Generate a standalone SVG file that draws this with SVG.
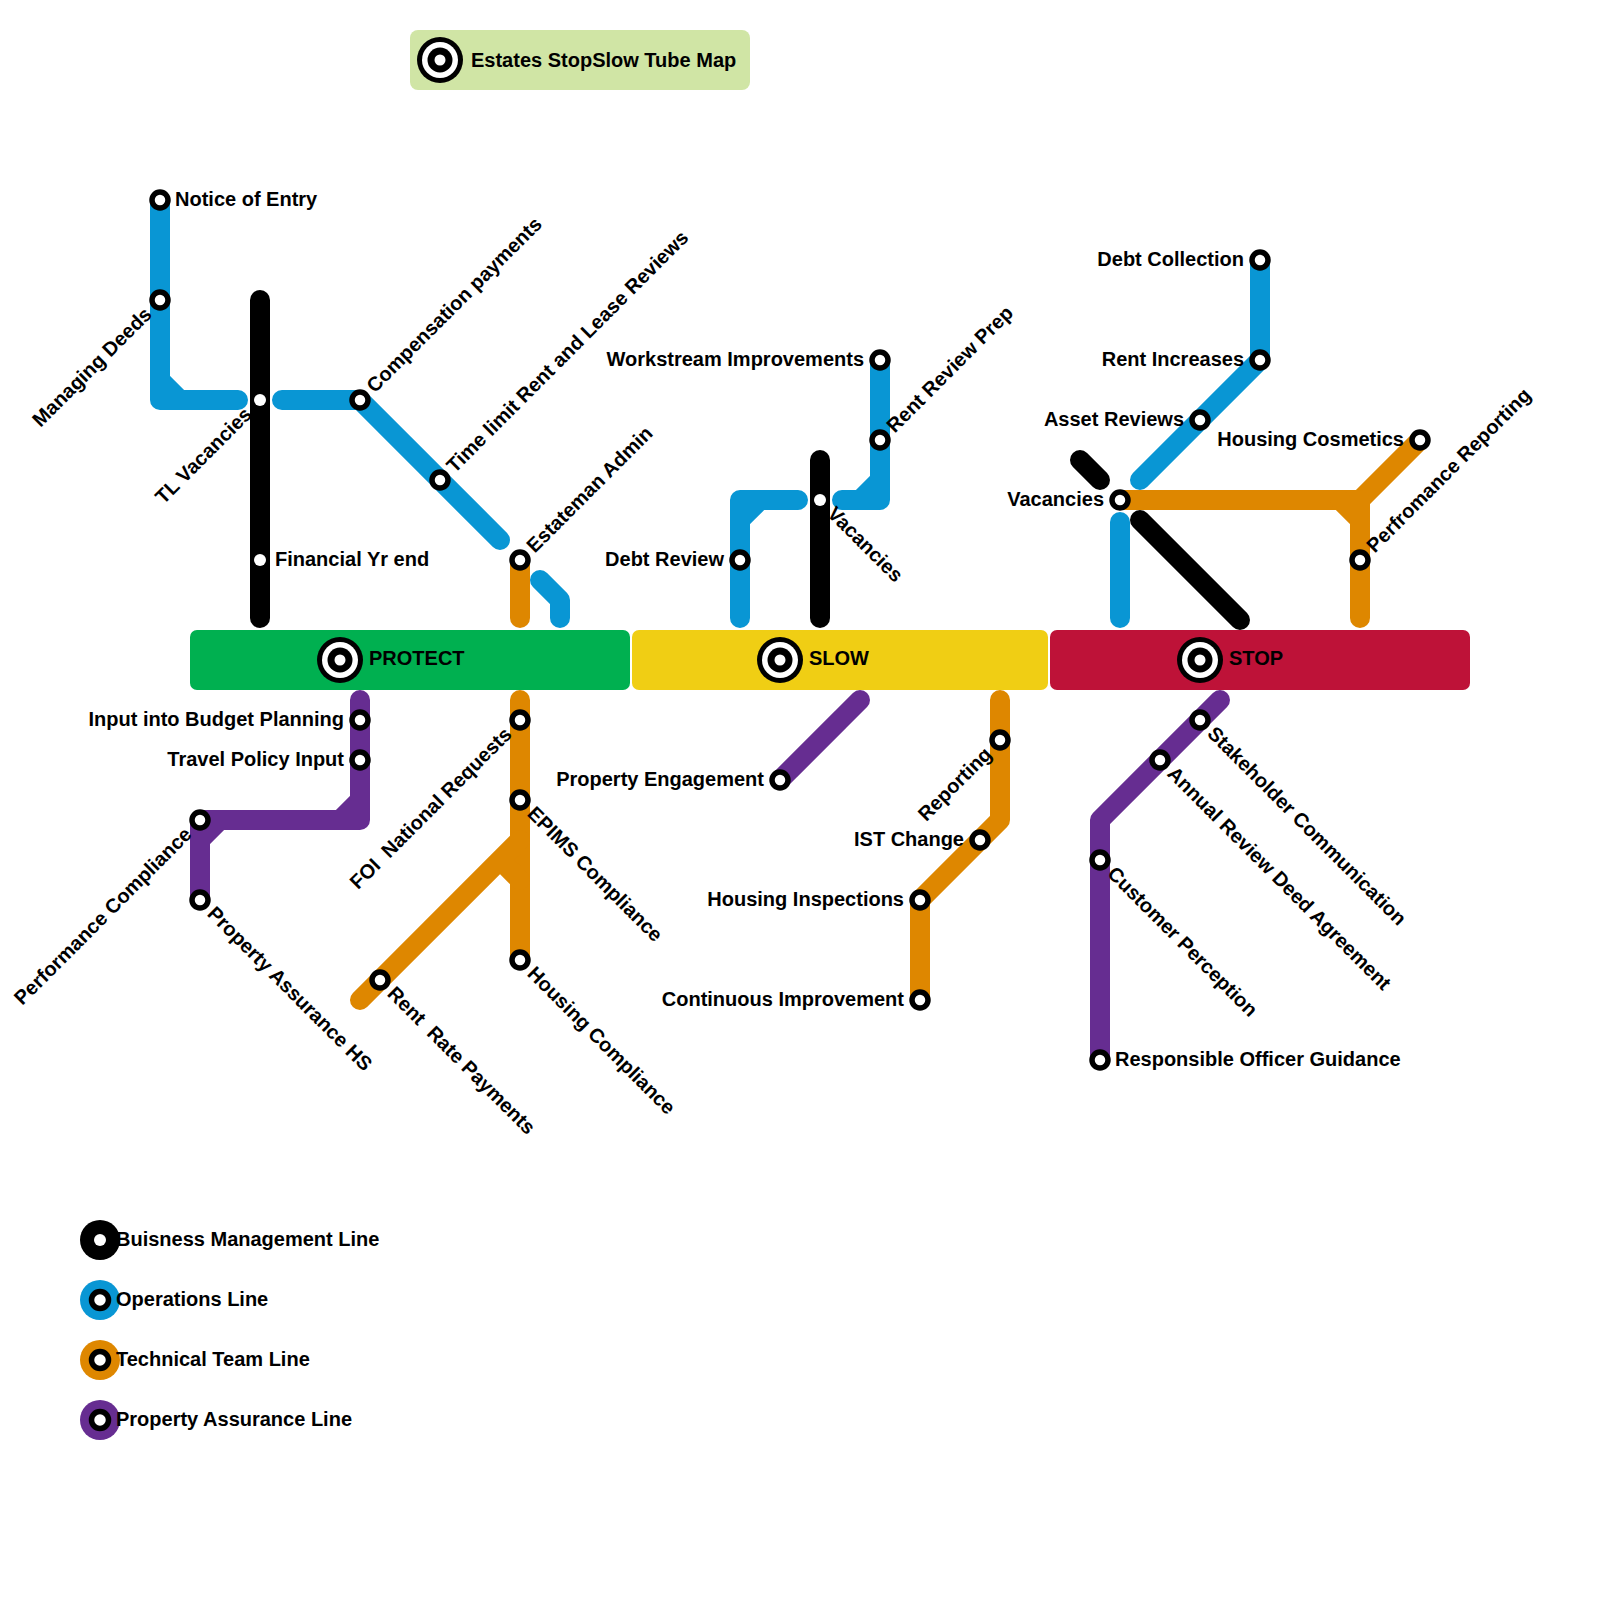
<svg xmlns="http://www.w3.org/2000/svg" xmlns:xlink="http://www.w3.org/1999/xlink" width="1600" height="1600" viewBox="0 0 1600 1600">
<style>
text{font-family:"Liberation Sans",Arial,Helvetica,sans-serif;font-weight:bold;font-size:20px;fill:#000}
.e{text-anchor:end}
.ln{fill:none;stroke-width:20;stroke-linecap:round;stroke-linejoin:round}
.bk{stroke:#000}.bl{stroke:#0996d4}.or{stroke:#de8700}.pu{stroke:#662d91}
.st{fill:#fff;stroke:#000;stroke-width:5.5}
.wd{fill:#fff}
</style>
<defs>
<g id="icon"><circle r="23" fill="#000"/><circle r="18" fill="#fff"/><circle r="12.5" fill="#000"/><circle r="5.5" fill="#fff"/></g>
</defs>
<rect width="1600" height="1600" fill="#fff"/>

<g id="title">
<rect x="410" y="30" width="340" height="60" rx="8" fill="#d0e5a5"/>
<use xlink:href="#icon" x="440" y="60"/>
<text x="471" y="67">Estates StopSlow Tube Map</text>
</g>

<g id="zone-protect">
<rect x="190" y="630" width="440" height="60" rx="7" fill="#00b050"/>
<use xlink:href="#icon" x="340" y="660"/>
<text x="369" y="665">PROTECT</text>
</g>
<g id="zone-slow">
<rect x="632" y="630" width="416" height="60" rx="7" fill="#f0ce14"/>
<use xlink:href="#icon" x="780" y="660"/>
<text x="809" y="665">SLOW</text>
</g>
<g id="zone-stop">
<rect x="1050" y="630" width="420" height="60" rx="7" fill="#be1238"/>
<use xlink:href="#icon" x="1200" y="660"/>
<text x="1229" y="665">STOP</text>
</g>

<g id="connectors">
<!-- PROTECT above -->
<path class="ln bl" d="M160,200 V400 H238 M160,380 L180,400"/>
<path class="ln bl" d="M282,400 H360 L500,540"/>
<path class="ln bl" d="M540,580 L560,600 V618"/>
<path class="ln bk" d="M260,300 V618"/>
<path class="ln or" d="M520,560 V618"/>
<!-- PROTECT below -->
<path class="ln pu" d="M360,700 V820 H200 V900 M360,800 L340,820 M220,820 L200,840"/>
<path class="ln or" d="M520,700 V960"/>
<path class="ln or" d="M360,1000 L520,840 M500,860 L520,880"/>
<!-- SLOW above -->
<path class="ln bl" d="M740,618 V500 H798 M740,520 L760,500"/>
<path class="ln bl" d="M842,500 H880 V360 M860,500 L880,480"/>
<path class="ln bk" d="M820,460 V618"/>
<!-- SLOW below -->
<path class="ln pu" d="M860,700 L780,780"/>
<path class="ln or" d="M1000,700 V820 L920,900 V1000"/>
<!-- STOP above -->
<path class="ln bl" d="M1260,260 V360 L1140,480"/>
<path class="ln bl" d="M1120,522 V618"/>
<path class="ln bk" d="M1080,460 L1100,480"/>
<path class="ln bk" d="M1140,520 L1240,620"/>
<path class="ln or" d="M1120,500 H1360 L1420,440"/>
<path class="ln or" d="M1360,500 V618 M1340,500 L1360,520"/>
<!-- STOP below -->
<path class="ln pu" d="M1220,700 L1100,820 V1060"/>
</g>

<g id="stations">
<g id="st-notice-of-entry"><circle class="st" cx="160" cy="200" r="8"/><text x="175" y="206">Notice of Entry</text></g>
<g id="st-managing-deeds"><circle class="st" cx="160" cy="300" r="8"/><text class="e" transform="translate(160,300) rotate(-45)" x="-16" y="6">Managing Deeds</text></g>
<g id="st-tl-vacancies"><circle class="wd" cx="260" cy="400" r="6"/><text class="e" transform="translate(260,400) rotate(-45)" x="-16" y="6">TL Vacancies</text></g>
<g id="st-compensation-payments"><circle class="st" cx="360" cy="400" r="8"/><text transform="translate(360,400) rotate(-45)" x="15" y="6">Compensation payments</text></g>
<g id="st-time-limit"><circle class="st" cx="440" cy="480" r="8"/><text transform="translate(440,480) rotate(-45)" x="15" y="6">Time limit Rent and Lease Reviews</text></g>
<g id="st-estateman-admin"><circle class="st" cx="520" cy="560" r="8"/><text transform="translate(520,560) rotate(-45)" x="15" y="6">Estateman Admin</text></g>
<g id="st-financial-yr-end"><circle class="wd" cx="260" cy="560" r="6"/><text x="275" y="566">Financial Yr end</text></g>

<g id="st-input-budget"><circle class="st" cx="360" cy="720" r="8"/><text class="e" x="344" y="726">Input into Budget Planning</text></g>
<g id="st-travel-policy"><circle class="st" cx="360" cy="760" r="8"/><text class="e" x="344" y="766">Travel Policy Input</text></g>
<g id="st-performance-compliance"><circle class="st" cx="200" cy="820" r="8"/><text class="e" transform="translate(200,820) rotate(-45)" x="-16" y="6">Performance Compliance</text></g>
<g id="st-property-assurance-hs"><circle class="st" cx="200" cy="900" r="8"/><text transform="translate(200,900) rotate(45)" x="15" y="6">Property Assurance HS</text></g>
<g id="st-foi"><circle class="st" cx="520" cy="720" r="8"/><text class="e" xml:space="preserve" transform="translate(520,720) rotate(-45)" x="-16" y="6">FOI  National Requests</text></g>
<g id="st-epims"><circle class="st" cx="520" cy="800" r="8"/><text transform="translate(520,800) rotate(45)" x="15" y="6">EPIMS Compliance</text></g>
<g id="st-housing-compliance"><circle class="st" cx="520" cy="960" r="8"/><text transform="translate(520,960) rotate(45)" x="15" y="6">Housing Compliance</text></g>
<g id="st-rent-rate"><circle class="st" cx="380" cy="980" r="8"/><text xml:space="preserve" transform="translate(380,980) rotate(45)" x="15" y="6">Rent  Rate Payments</text></g>

<g id="st-workstream"><circle class="st" cx="880" cy="360" r="8"/><text class="e" x="864" y="366">Workstream Improvements</text></g>
<g id="st-rent-review-prep"><circle class="st" cx="880" cy="440" r="8"/><text transform="translate(880,440) rotate(-45)" x="15" y="6">Rent Review Prep</text></g>
<g id="st-slow-vacancies"><circle class="wd" cx="820" cy="500" r="6"/><text transform="translate(820,500) rotate(45)" x="15" y="6">Vacancies</text></g>
<g id="st-debt-review"><circle class="st" cx="740" cy="560" r="8"/><text class="e" x="724" y="566">Debt Review</text></g>
<g id="st-property-engagement"><circle class="st" cx="780" cy="780" r="8"/><text class="e" x="764" y="786">Property Engagement</text></g>
<g id="st-reporting"><circle class="st" cx="1000" cy="740" r="8"/><text class="e" transform="translate(1000,740) rotate(-45)" x="-16" y="6">Reporting</text></g>
<g id="st-ist-change"><circle class="st" cx="980" cy="840" r="8"/><text class="e" x="964" y="846">IST Change</text></g>
<g id="st-housing-inspections"><circle class="st" cx="920" cy="900" r="8"/><text class="e" x="904" y="906">Housing Inspections</text></g>
<g id="st-continuous-improvement"><circle class="st" cx="920" cy="1000" r="8"/><text class="e" x="904" y="1006">Continuous Improvement</text></g>

<g id="st-debt-collection"><circle class="st" cx="1260" cy="260" r="8"/><text class="e" x="1244" y="266">Debt Collection</text></g>
<g id="st-rent-increases"><circle class="st" cx="1260" cy="360" r="8"/><text class="e" x="1244" y="366">Rent Increases</text></g>
<g id="st-asset-reviews"><circle class="st" cx="1200" cy="420" r="8"/><text class="e" x="1184" y="426">Asset Reviews</text></g>
<g id="st-stop-vacancies"><circle class="st" cx="1120" cy="500" r="8"/><text class="e" x="1104" y="506">Vacancies</text></g>
<g id="st-housing-cosmetics"><circle class="st" cx="1420" cy="440" r="8"/><text class="e" x="1404" y="446">Housing Cosmetics</text></g>
<g id="st-perfromance-reporting"><circle class="st" cx="1360" cy="560" r="8"/><text transform="translate(1360,560) rotate(-45)" x="15" y="6">Perfromance Reporting</text></g>
<g id="st-stakeholder"><circle class="st" cx="1200" cy="720" r="8"/><text transform="translate(1200,720) rotate(45)" x="15" y="6">Stakeholder Communication</text></g>
<g id="st-annual-review"><circle class="st" cx="1160" cy="760" r="8"/><text transform="translate(1160,760) rotate(45)" x="15" y="6">Annual Review Deed Agreement</text></g>
<g id="st-customer-perception"><circle class="st" cx="1100" cy="860" r="8"/><text transform="translate(1100,860) rotate(45)" x="15" y="6">Customer Perception</text></g>
<g id="st-responsible-officer"><circle class="st" cx="1100" cy="1060" r="8"/><text x="1115" y="1066">Responsible Officer Guidance</text></g>
</g>

<g id="legend">
<g id="legend-business"><circle cx="100" cy="1240" r="20" fill="#000"/><circle class="wd" cx="100" cy="1240" r="6"/><text x="116" y="1246">Buisness Management Line</text></g>
<g id="legend-operations"><circle cx="100" cy="1300" r="20" fill="#0996d4"/><circle class="st" cx="100" cy="1300" r="8.5"/><text x="116" y="1306">Operations Line</text></g>
<g id="legend-technical"><circle cx="100" cy="1360" r="20" fill="#de8700"/><circle class="st" cx="100" cy="1360" r="8.5"/><text x="116" y="1366">Technical Team Line</text></g>
<g id="legend-property"><circle cx="100" cy="1420" r="20" fill="#662d91"/><circle class="st" cx="100" cy="1420" r="8.5"/><text x="116" y="1426">Property Assurance Line</text></g>
</g>
</svg>
